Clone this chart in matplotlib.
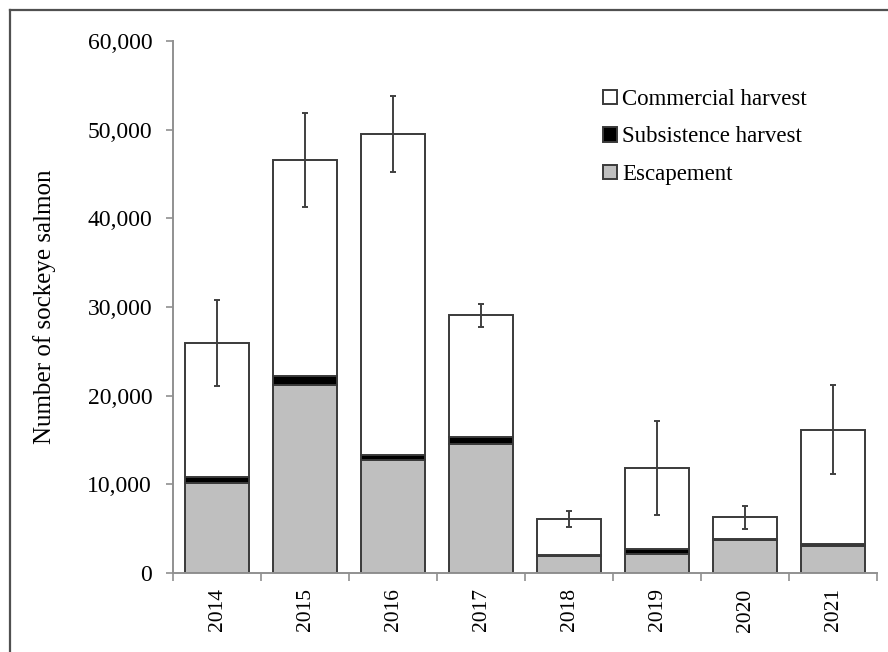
import matplotlib
matplotlib.use("Agg")
import matplotlib.pyplot as plt
from matplotlib.lines import Line2D
from matplotlib.ticker import FuncFormatter
import numpy as np

plt.rcParams['font.family'] = ['Liberation Serif', 'DejaVu Serif']

years = ["2014", "2015", "2016", "2017", "2018", "2019", "2020", "2021"]
escapement = [10200, 21200, 12800, 14600, 1950, 2150, 3700, 3100]
subsistence = [650, 1050, 520, 750, 110, 570, 130, 150]
commercial = [15100, 24300, 36200, 13700, 4000, 9100, 2450, 12900]
total_error = [4850, 5300, 4250, 1250, 900, 5300, 1300, 5000]

fig = plt.figure(figsize=(8.88, 6.52), dpi=100)
ax = fig.add_axes([173 / 888, 1 - 573 / 652, 704 / 888, 532 / 652])

x = np.arange(len(years))
w = 0.73
edge = '#3a3a3a'
esc = np.array(escapement)
sub = np.array(subsistence)
com = np.array(commercial)

ax.bar(x, esc, w, color='#bfbfbf', edgecolor=edge, linewidth=1.4, label='Escapement', zorder=2)
ax.bar(x, sub, w, bottom=esc, color='black', edgecolor=edge, linewidth=1.4,
       label='Subsistence harvest', zorder=2)
ax.bar(x, com, w, bottom=esc + sub, color='white', edgecolor=edge, linewidth=1.4,
       label='Commercial harvest', zorder=2)
ax.errorbar(x, esc + sub + com, yerr=total_error, fmt='none', ecolor='#404040',
            elinewidth=1.4, capsize=2.5, capthick=1.4, zorder=3)

ax.set_xlim(-0.5, len(years) - 0.5)
ax.set_ylim(0, 60000)
ax.set_yticks(np.arange(0, 60001, 10000))
ax.yaxis.set_major_formatter(FuncFormatter(lambda v, p: f"{int(v):,}"))

ax.set_xticks(np.arange(-0.5, len(years), 1.0))
ax.set_xticklabels([])
ax.set_xticks(x, minor=True)
ax.set_xticklabels(years, minor=True, rotation=90, fontsize=15.5)
ax.tick_params(axis='x', which='minor', length=0, pad=11)
ax.tick_params(axis='x', which='major', length=6, width=1.2, color='#909090', direction='out')
ax.tick_params(axis='y', length=5, width=1.2, color='#909090', direction='out', labelsize=17, pad=10)

for s in ['top', 'right']:
    ax.spines[s].set_visible(False)
for s in ['left', 'bottom']:
    ax.spines[s].set_color('#909090')
    ax.spines[s].set_linewidth(1.4)

ax.set_ylabel("Number of sockeye salmon", fontsize=18, labelpad=22.5)

handles, labels = ax.get_legend_handles_labels()
leg = ax.legend(handles[::-1], labels[::-1], loc='upper left',
                bbox_to_anchor=(603 / 888, 1 - 89 / 652), bbox_transform=fig.transFigure,
                frameon=False, fontsize=16.5, handlelength=0.6, handleheight=0.6,
                handletextpad=0.25, labelspacing=0.72, borderaxespad=0, borderpad=0)

# outer frame of the figure
fig.add_artist(Line2D([10 / 888, 10 / 888], [0, 1 - 10 / 652], transform=fig.transFigure,
                      color='#505050', linewidth=1.6))
fig.add_artist(Line2D([10 / 888, 1], [1 - 10 / 652, 1 - 10 / 652], transform=fig.transFigure,
                      color='#505050', linewidth=1.6))

fig.savefig("out.png", dpi=100)
